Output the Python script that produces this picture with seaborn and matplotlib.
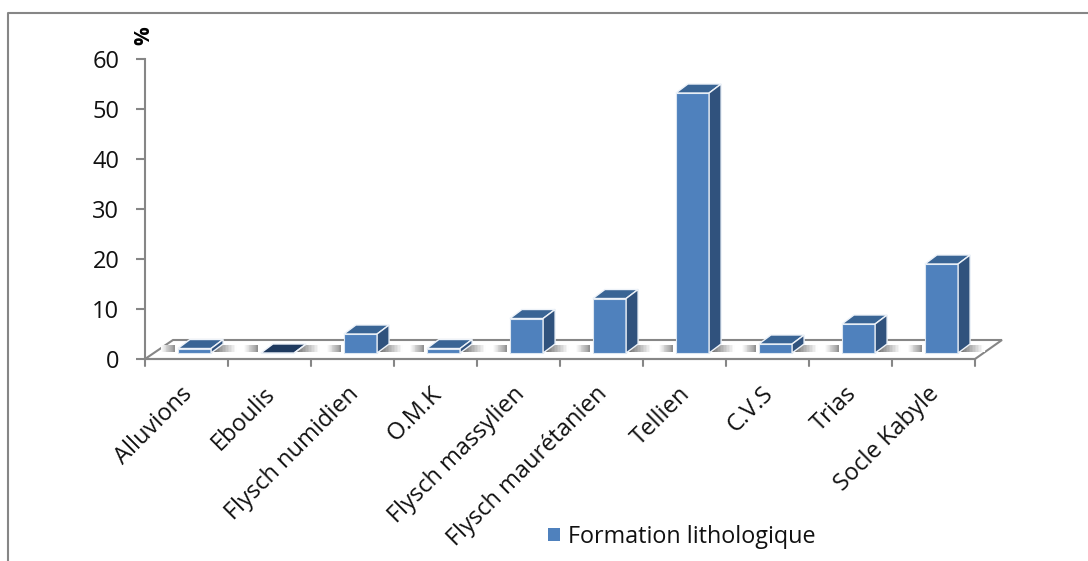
import matplotlib
matplotlib.use("Agg")
import matplotlib.pyplot as plt
from matplotlib.patches import Polygon, Rectangle
from matplotlib.transforms import Affine2D
import pandas as pd
import seaborn as sns

# Data
categories = ["Alluvions", "Eboulis", "Flysch numidien", "O.M.K", "Flysch massylien",
              "Flysch maurétanien", "Tellien", "C.V.S", "Trias", "Socle Kabyle"]
values = [0.9, 0.0, 3.8, 0.9, 6.9, 10.9, 52.0, 1.8, 5.8, 17.8]
y_ticks = [0, 10, 20, 30, 40, 50, 60]
series_name = "Formation lithologique"

W, H = 1088, 561
GREY = "#868686"
FRONT = "#4F81BD"
TOP = "#3A6595"
SIDE = "#30527D"

sns.set_theme(style="white")
plt.rcParams["font.family"] = ["Open Sans", "DejaVu Sans"]

fig = plt.figure(figsize=(W / 100, H / 100), dpi=100)

# Pixel layer under the chart: outer frame, floor and shadows
bg = fig.add_axes([0, 0, 1, 1], zorder=0)
bg.set_xlim(0, W)
bg.set_ylim(H, 0)
bg.axis("off")
bg.plot([8, 8, 1088], [561, 13, 13], color=GREY, lw=1.5)
bg.add_patch(Polygon([(145, 359), (173, 340), (1002, 340), (975, 359)], closed=True,
                     facecolor="white", edgecolor=GREY, lw=1.5))

# Chart axes, one unit of y is 5 px
ax = fig.add_axes([145 / W, 1 - 359 / H, 830 / W, 300 / H], zorder=1)
ax.patch.set_alpha(0)

df = pd.DataFrame({"formation": categories, "pct": values})
sns.barplot(data=df, x="formation", y="pct", color=FRONT, saturation=1, width=0.4,
            label=series_name, ax=ax, zorder=3)

ax.set_xlim(-0.5, 9.5)
ax.set_ylim(0, 60)
ax.set_yticks(y_ticks)
ax.set_xlabel("")
ax.set_ylabel("")
ax.set_xticks(range(len(categories)))
ax.set_xticklabels(categories, rotation=45, ha="right", rotation_mode="anchor", fontsize=17, color="#111111")
ax.tick_params(axis="y", labelsize=17, labelcolor="#111111", length=6.5, width=1.5, color=GREY, left=True, pad=12)
ax.tick_params(axis="x", length=0, pad=15)
for lab in ax.get_xticklabels():
    lab.set_transform(lab.get_transform() + Affine2D().translate(-6, -2))
for s in ["top", "right"]:
    ax.spines[s].set_visible(False)
for s in ["left", "bottom"]:
    ax.spines[s].set_color(GREY)
    ax.spines[s].set_linewidth(1.5)

# category separators on the bottom axis
for i in range(len(categories) + 1):
    ax.plot([i - 0.5, i - 0.5], [0, -7 / 5], color=GREY, lw=1.5, clip_on=False)

# 3D look: shift the fronts up onto the floor, add top and side faces
shift = Affine2D().translate(8, 6)
dx, dy = 12, 9
fig.canvas.draw()
for p in list(ax.patches):
    x0, x1 = p.get_x(), p.get_x() + p.get_width()
    h = p.get_height()
    (px0, py0), (px1, py1) = shift.transform(ax.transData.transform([(x0, 0), (x1, h)]))
    p.set_transform(ax.transData + shift)
    p.set_edgecolor("#DCE6F1")
    p.set_linewidth(0.8)
    p.set_clip_on(False)
    top_col = "#1F3A5F" if h == 0 else TOP
    ax.add_patch(Polygon([(px0, py1), (px1, py1), (px1 + dx, py1 + dy), (px0 + dx, py1 + dy)], closed=True,
                         transform=None, facecolor=top_col, edgecolor="#EEF3F9", lw=1.0, zorder=4, clip_on=False))
    ax.add_patch(Polygon([(px1, py0), (px1, py1), (px1 + dx, py1 + dy), (px1 + dx, py0 + dy)], closed=True,
                         transform=None, facecolor=SIDE, edgecolor="#EEF3F9", lw=1.0, zorder=4, clip_on=False))

    # soft shadows on the floor, either side of the bar
    n = 16
    base = H - py0
    for k in range(n):
        t = (k + 0.5) / n
        bg.add_patch(Rectangle((px0 - 3 - 14 * (k + 1) / n, base - 8), 14 / n + 0.3, 7,
                               facecolor=str(0.55 + 0.45 * t), edgecolor="none"))
        bg.add_patch(Rectangle((px1 + 3 + 24 * k / n, base - 8), 24 / n + 0.3, 7,
                               facecolor=str(min(1.0, 0.45 + 0.6 * t)), edgecolor="none"))

fig.text(144 / W, 1 - 36 / H, "%", rotation=90, ha="center", va="center", fontsize=15,
         fontweight="bold", color="black")

handles, labels = ax.get_legend_handles_labels()
leg = ax.legend(handles[:1], labels[:1], loc="center left", bbox_to_anchor=(548 / W, 1 - 537 / H),
                bbox_transform=fig.transFigure, frameon=False, fontsize=16.8, handlelength=0.5,
                handleheight=0.5, handletextpad=0.34, borderpad=0, borderaxespad=0, labelcolor="#111111")
for hp in leg.get_patches():
    hp.set_edgecolor("none")

fig.savefig("out.png", dpi=100)
